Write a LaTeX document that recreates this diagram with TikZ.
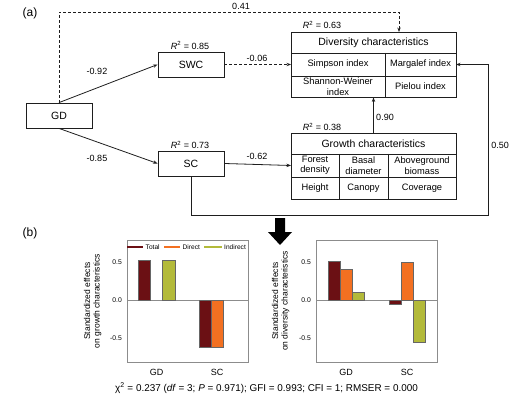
\documentclass[tikz,border=0pt]{standalone}
\usepackage{fontspec}
\setmainfont{Liberation Sans}
\usetikzlibrary{arrows.meta}
\definecolor{ctot}{HTML}{6B1014}
\definecolor{cdir}{HTML}{F37021}
\definecolor{cind}{HTML}{B3BA3A}
\definecolor{ln}{HTML}{1E1E1E}
\begin{document}
\begin{tikzpicture}[x=1pt,y=-1pt,
  box/.style={draw=ln, line width=0.8pt, minimum width=66pt, minimum height=25pt, inner sep=0pt, font=\fontsize{10.5}{12}\selectfont},
  bigbox/.style={draw=ln, line width=0.8pt, minimum width=165pt, inner sep=0pt},
  arr/.style={-{Stealth[length=4.5pt,width=3.4pt]}, line width=0.8pt, draw=ln},
  dasharr/.style={arr, dash pattern=on 3pt off 2pt},
  lbl/.style={font=\fontsize{9}{10}\selectfont, inner sep=0pt},
  title/.style={font=\fontsize{10.5}{12}\selectfont, inner sep=0pt},
  cell/.style={font=\fontsize{9.3}{10.5}\selectfont, inner sep=0pt, align=center},
  panel/.style={font=\fontsize{12}{14}\selectfont, inner sep=0pt},
  frame/.style={draw=black!45, line width=0.6pt},
  barst/.style={draw=black!60, line width=0.4pt},
  tick/.style={font=\fontsize{6.8}{8}\selectfont, inner sep=0pt, anchor=east},
  leg/.style={font=\fontsize{6.6}{8}\selectfont, inner sep=0pt, anchor=west},
  ylab/.style={font=\fontsize{8.5}{10}\selectfont, inner sep=0pt, rotate=90},
  xlab/.style={font=\fontsize{9}{10}\selectfont, inner sep=0pt}]
\useasboundingbox (0,0) rectangle (521,403);

% panel labels
\node[panel] (pa) at (30,13) {(a)};
\node[panel] (pb) at (30,233) {(b)};

% small boxes
\node[box] (gd) at (59,115.5) {GD};
\node[box] (swc) at (191,64.5) {SWC};
\node[box] (sc) at (191,163.5) {SC};

% diversity box
\node[bigbox, minimum height=65pt] (div) at (373.5,64.5) {};
\draw[draw=ln, line width=0.8pt] (291,53) -- (456,53) (291,76) -- (456,76) (385,53) -- (385,97);
\node[title] (divt) at (373.5,42.5) {Diversity characteristics};
\node[cell] (simp) at (338,64.5) {Simpson index};
\node[cell] (marg) at (420.5,64.5) {Margalef index};
\node[cell] (shan) at (338,86.5) {Shannon-Weiner\\index};
\node[cell] (piel) at (420.5,86.5) {Pielou index};
\coordinate (simpw) at (291,64.5);
\coordinate (marge) at (456,64.5);

% growth box
\node[bigbox, minimum height=66pt] (gro) at (373.5,166) {};
\draw[draw=ln, line width=0.8pt] (291,154) -- (456,154) (291,177) -- (456,177) (339,154) -- (339,199) (388,154) -- (388,199);
\node[title] (grot) at (373.5,144) {Growth characteristics};
\node[cell] (fd) at (315,165.5) {Forest\\density};
\node[cell] (bd) at (363.5,165.5) {Basal\\diameter};
\node[cell] (ab) at (422,165.5) {Aboveground\\biomass};
\node[cell] (ht) at (315,188) {Height};
\node[cell] (cn) at (363.5,188) {Canopy};
\node[cell] (cv) at (422,188) {Coverage};
\coordinate (fdw) at (291,165.5);

% R2 labels
\node[lbl] (r1) at (190,45.5) {\textit{R}\textsuperscript{2} = 0.85};
\node[lbl] (r2) at (190,145) {\textit{R}\textsuperscript{2} = 0.73};
\node[lbl] (r3) at (322,25) {\textit{R}\textsuperscript{2} = 0.63};
\node[lbl] (r4) at (322,127) {\textit{R}\textsuperscript{2} = 0.38};

% connectors
\coordinate (k1) at (59,12);
\coordinate (k2) at (399,12);
\coordinate (dtop) at (399,32);
\draw[dasharr] (gd.north) -- (k1) -- (k2) -- (dtop);
\draw[arr] (gd.north) -- (swc.west);
\draw[arr] (gd.south) -- (sc.west);
\draw[dasharr] (swc.east) -- (simpw);
\draw[arr] (sc.east) -- (fdw);
\draw[arr] (gro.north) -- (div.south);
\coordinate (k3) at (191,215);
\coordinate (k4) at (488,215);
\coordinate (k5) at (488,64.5);
\draw[arr] (sc.south) -- (k3) -- (k4) -- (k5) -- (marge);

% edge labels
\node[lbl] (e41) at (241,6) {0.41};
\node[lbl] (e92) at (97,71) {-0.92};
\node[lbl] (e85) at (97,158) {-0.85};
\node[lbl] (e06) at (257,58) {-0.06};
\node[lbl] (e62) at (257,156.5) {-0.62};
\node[lbl] (e90) at (385,117) {0.90};
\node[lbl] (e50) at (500,145) {0.50};

% big black arrow
\fill[black] (275,218) -- (285,218) -- (285,232) -- (292,232) -- (280,245) -- (268,232) -- (275,232) -- cycle;

% ---------- left plot ----------
\draw[black!45, line width=0.5pt] (127,300) -- (248,300);
\foreach \xa/\xb/\v/\c in {138/150/0.53/ctot, 162/175/0.53/cind, 199/211/-0.62/ctot, 211/223/-0.62/cdir}
  \draw[barst, fill=\c] (\xa,300) rectangle (\xb,{300-76*\v});
\draw[frame] (127,240) rectangle (248,362);
\node[tick] (t1a) at (122,262) {0.5};
\node[tick] (t1b) at (122,300) {0.0};
\node[tick] (t1c) at (122,338) {-0.5};
\node[xlab] (x1a) at (156.5,372) {GD};
\node[xlab] (x1b) at (217,372) {SC};
\node[ylab] (y1a) at (87,301) {Standardized effects};
\node[ylab] (y1b) at (97.5,301) {on growth characteristics};
% legend
\fill[ctot] (127,245.5) rectangle (143,248);
\node[leg] (lg1) at (145.5,247) {Total};
\fill[cdir] (164,245.5) rectangle (180,248);
\node[leg] (lg2) at (182.5,247) {Direct};
\fill[cind] (204,245.5) rectangle (222,248);
\node[leg] (lg3) at (224,247) {Indirect};

% ---------- right plot ----------
\draw[black!45, line width=0.5pt] (316,300) -- (437,300);
\foreach \xa/\xb/\v/\c in {328/340/0.51/ctot, 340/352/0.41/cdir, 352/364/0.10/cind, 389/401/-0.06/ctot, 401/413/0.50/cdir, 413/425/-0.56/cind}
  \draw[barst, fill=\c] (\xa,300) rectangle (\xb,{300-76*\v});
\draw[frame] (316,240) rectangle (437,362);
\node[tick] (t2a) at (311,262) {0.5};
\node[tick] (t2b) at (311,300) {0.0};
\node[tick] (t2c) at (311,338) {-0.5};
\node[xlab] (x2a) at (346,372) {GD};
\node[xlab] (x2b) at (407,372) {SC};
\node[ylab] (y2a) at (275,301) {Standardized effects};
\node[ylab] (y2b) at (285.5,301) {on diversity characteristics};

% fit statistics
\node[font=\fontsize{9.9}{11}\selectfont, inner sep=0pt] (fit) at (266.5,388)
  {χ\textsuperscript{2} = 0.237 (\textit{df} = 3; \textit{P} = 0.971); GFI = 0.993; CFI = 1; RMSER = 0.000};
\end{tikzpicture}
\end{document}
